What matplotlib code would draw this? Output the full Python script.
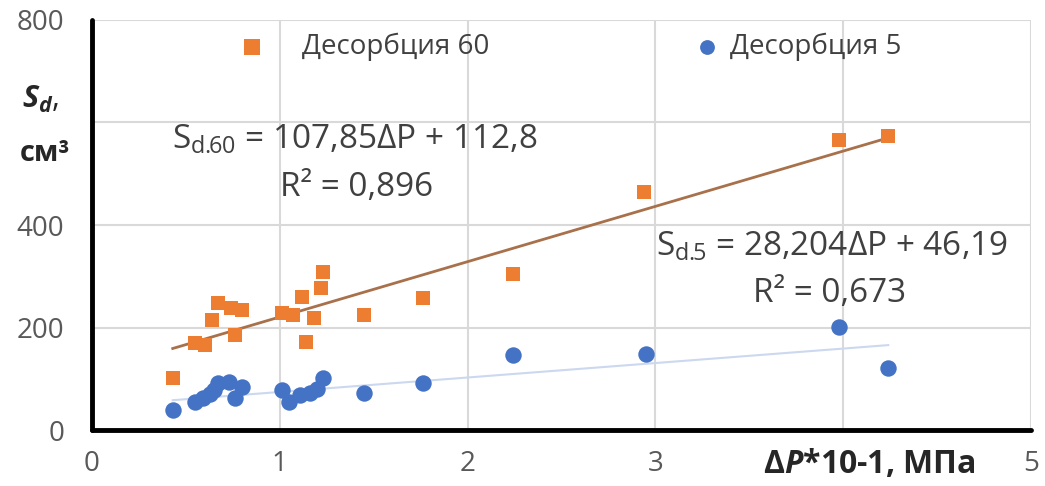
import matplotlib.pyplot as plt

plt.rcParams['font.family'] = ['Open Sans', 'DejaVu Sans']
plt.rcParams['mathtext.fontset'] = 'custom'
plt.rcParams['mathtext.rm'] = 'Open Sans'
plt.rcParams['mathtext.it'] = 'Open Sans:italic'
plt.rcParams['mathtext.bf'] = 'Open Sans:bold'
plt.rcParams['mathtext.bfit'] = 'Open Sans:italic:bold'

# Десорбция 60
x60 = [0.43, 0.55, 0.60, 0.64, 0.67, 0.74, 0.76, 0.80, 1.01, 1.07, 1.12,
       1.14, 1.18, 1.22, 1.23, 1.45, 1.76, 2.24, 2.94, 3.98, 4.24]
y60 = [101, 170, 166, 215, 248, 238, 185, 235, 228, 224, 260,
       172, 219, 277, 308, 224, 257, 304, 465, 566, 574]

# Десорбция 5
x5 = [0.43, 0.55, 0.59, 0.63, 0.65, 0.67, 0.73, 0.76, 0.80, 1.01, 1.05,
      1.11, 1.16, 1.20, 1.23, 1.45, 1.76, 2.24, 2.95, 3.98, 4.24]
y5 = [39, 55, 62, 70, 78, 92, 94, 62, 85, 78, 55,
      68, 72, 80, 101, 72, 91, 146, 148, 201, 121]

# линии тренда
k60, b60 = 107.85, 112.8
k5, b5 = 28.204, 46.19

xticks = [0, 1, 2, 3, 4, 5]
xticklabels = ['0', '1', '2', '3', '', '5']
yticks = [0, 200, 400, 600, 800]
yticklabels = ['0', '200', '400', '', '800']

fig = plt.figure(figsize=(10.45, 4.86), dpi=100)
ax = fig.add_axes([0.088, 0.115, 0.8986, 0.844])

ax.set_xlim(0, 5)
ax.set_ylim(0, 800)
ax.set_xticks(xticks)
ax.set_xticklabels(xticklabels)
ax.set_yticks(yticks)
ax.set_yticklabels(yticklabels)
ax.tick_params(length=0, labelsize=20, labelcolor='#595959')
ax.tick_params(axis='y', pad=20)
ax.tick_params(axis='x', pad=14)
ax.grid(True, color='#D9D9D9', lw=1.5)
ax.set_axisbelow(True)

for s in ['top', 'right']:
    ax.spines[s].set_visible(False)
for s in ['left', 'bottom']:
    ax.spines[s].set_linewidth(3.5)
    ax.spines[s].set_capstyle('round')

# тренды
tx = [min(x60), max(x60)]
ax.plot(tx, [k60 * v + b60 for v in tx], color='#A8714B', lw=2, zorder=3)
ax.plot(tx, [k5 * v + b5 for v in tx], color='#CCD8EF', lw=1.5, zorder=3)

h60 = ax.scatter(x60, y60, marker='s', s=110, color='#ED7D31', lw=0, zorder=4, label='Десорбция 60')
h5 = ax.scatter(x5, y5, marker='o', s=140, color='#4472C4', lw=0, zorder=4, label='Десорбция 5')

leg1 = ax.legend(handles=[h60], loc='center left', bbox_to_anchor=(0.1555, 0.934),
                 frameon=False, fontsize=20, handlelength=1, handletextpad=1.3,
                 borderpad=0, borderaxespad=0, markerscale=1.1)
ax.add_artist(leg1)
leg2 = ax.legend(handles=[h5], loc='center left', bbox_to_anchor=(0.640, 0.934),
                 frameon=False, fontsize=20, handlelength=1, handletextpad=0.33,
                 borderpad=0, borderaxespad=0, markerscale=0.9)
for lg in (leg1, leg2):
    for t in lg.get_texts():
        t.set_color('#404040')

ax.text(1.40, 566, r'S$_{\mathrm{d.\!\!60}}$ = 107,85ΔP + 112,8', fontsize=24,
        color='#404040', ha='center', va='center')
ax.text(1.41, 474, 'R² = 0,896', fontsize=24, color='#404040', ha='center', va='center')
ax.text(3.94, 357, r'S$_{\mathrm{d.\!\!5}}$ = 28,204ΔP + 46,19', fontsize=24,
        color='#404040', ha='center', va='center')
ax.text(3.93, 267, 'R² = 0,673', fontsize=24, color='#404040', ha='center', va='center')

ax.text(-0.27, 644, r'$\mathbfit{S}_{\mathbfit{d}}$,', fontsize=22, color='#262626',
        ha='center', va='center')
ax.text(-0.25, 540, 'см³', fontsize=21, fontweight='bold', color='#262626',
        ha='center', va='center')
ax.text(4.14, -68, r'Δ$\mathbfit{P}$*10-1, МПа', fontsize=23, fontweight='bold',
        color='#262626', ha='center', va='center')

fig.savefig('out.png', dpi=100)
